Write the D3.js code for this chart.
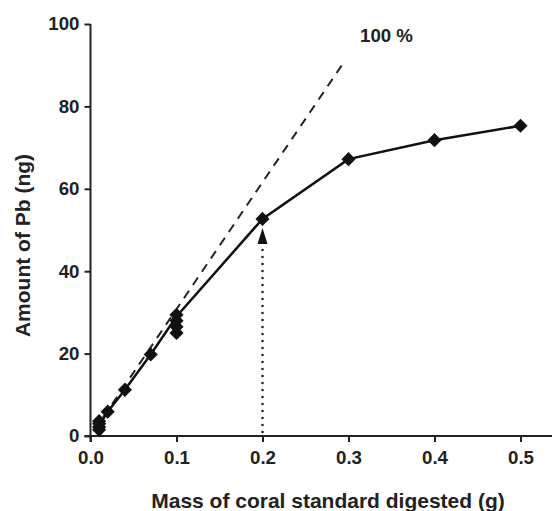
<!DOCTYPE html>
<html>
<head>
<meta charset="utf-8">
<script src="https://cdn.jsdelivr.net/npm/d3@7"></script>
<style>
  html, body { margin: 0; padding: 0; background: #fff; }
  svg { display: block; font-family: "Liberation Sans", Arial, sans-serif; }
</style>
</head>
<body>
<svg id="chart" width="552" height="511"></svg>
<script>
// ---- data ----
const pointMass = [0.01, 0.01, 0.01, 0.01, 0.02, 0.04, 0.07, 0.1, 0.1, 0.1, 0.1, 0.2, 0.3, 0.4, 0.5];
const pointPb   = [1.5, 2.2, 3.0, 3.6, 5.9, 11.2, 19.8, 25.0, 26.5, 28.0, 29.4, 52.7, 67.2, 71.8, 75.3];
const lineMass  = [0.01, 0.02, 0.04, 0.07, 0.1, 0.2, 0.3, 0.4, 0.5];
const linePb    = [2.5, 5.9, 11.2, 19.8, 29.0, 52.7, 67.2, 71.8, 75.3];
const refMass   = [0, 0.292];
const refPb     = [0, 89.9];
const refLabel  = "100 %";
const arrowMass = 0.2;
const arrowFrom = 0;
const arrowTo   = 50.5;
const xTicks = [0, 0.1, 0.2, 0.3, 0.4, 0.5];
const yTicks = [0, 20, 40, 60, 80, 100];
const xTitle = "Mass of coral standard digested (g)";
const yTitle = "Amount of Pb (ng)";

// ---- scales ----
const svg = d3.select("#chart");
const x = d3.scaleLinear().domain([0, 0.55]).range([90.5, 563.5]);
const y = d3.scaleLinear().domain([0, 100]).range([436, 24]);

// ---- axes ----
const xAxis = d3.axisBottom(x).tickValues(xTicks).tickFormat(d3.format(".1f"))
  .tickSize(6).tickSizeOuter(0).tickPadding(9);
const yAxis = d3.axisLeft(y).tickValues(yTicks).tickFormat(d3.format("d"))
  .tickSize(6).tickSizeOuter(0).tickPadding(5);

const gx = svg.append("g").attr("transform", `translate(0,${y(0)})`).call(xAxis);
const gy = svg.append("g").attr("transform", `translate(${x(0)},0)`).call(yAxis);
[gx, gy].forEach(g => {
  g.select(".domain").attr("stroke", "#222").attr("stroke-width", 2);
  g.selectAll(".tick line").attr("stroke", "#222").attr("stroke-width", 2);
  g.selectAll(".tick text").attr("fill", "#222").attr("font-size", "18.7px")
    .attr("font-weight", "bold").attr("font-family", "'Liberation Sans', Arial, sans-serif");
});
gx.select(".domain").attr("d", `M${x(0) - 6},0H${x.range()[1]}`);
gy.select(".domain").attr("d", `M0,${y(100)}V${y(0) + 6}`);

// ---- titles ----
svg.append("text")
  .attr("x", 328).attr("y", 508)
  .attr("text-anchor", "middle")
  .attr("font-size", "21px").attr("font-weight", "bold").attr("fill", "#222")
  .text(xTitle);
svg.append("text")
  .attr("transform", "translate(30,245.5) rotate(-90)")
  .attr("text-anchor", "middle")
  .attr("font-size", "21px").attr("font-weight", "bold").attr("fill", "#222")
  .text(yTitle);

// ---- 100% reference line ----
const refData = refMass.map((m, i) => [m, refPb[i]]);
const refPath = svg.append("path")
  .datum(refData)
  .attr("d", d3.line().x(d => x(d[0])).y(d => y(d[1])))
  .attr("fill", "none").attr("stroke", "#222").attr("stroke-width", 2)
  .attr("stroke-dasharray", "9,7");
const dash = 9, period = 16;
const total = refPath.node().getTotalLength();
const off = (((dash - total) % period) + period) % period;
refPath.attr("stroke-dashoffset", off);
svg.append("text")
  .attr("x", 360).attr("y", 42)
  .attr("font-size", "18.7px").attr("font-weight", "bold").attr("fill", "#222")
  .text(refLabel);

// ---- arrow (dotted) ----
const headLen = 16, headHalf = 5;
svg.append("line")
  .attr("x1", x(arrowMass)).attr("x2", x(arrowMass))
  .attr("y1", y(arrowFrom) - 4).attr("y2", y(arrowTo) + headLen)
  .attr("stroke", "#222").attr("stroke-width", 2.6)
  .attr("stroke-linecap", "round")
  .attr("stroke-dasharray", "0,7");
const tipX = x(arrowMass), tipY = y(arrowTo);
svg.append("path")
  .attr("d", `M${tipX},${tipY}L${tipX + headHalf},${tipY + headLen}L${tipX - headHalf},${tipY + headLen}Z`)
  .attr("fill", "#111");

// ---- data line ----
const lineData = lineMass.map((m, i) => [m, linePb[i]]);
svg.append("path")
  .datum(lineData)
  .attr("d", d3.line().x(d => x(d[0])).y(d => y(d[1])))
  .attr("fill", "none").attr("stroke", "#111").attr("stroke-width", 2.5);

// ---- diamonds ----
const pts = pointMass.map((m, i) => [m, pointPb[i]]);
svg.append("g").selectAll("path")
  .data(pts).join("path")
  .attr("transform", d => `translate(${x(d[0])},${y(d[1])}) rotate(45)`)
  .attr("d", d3.symbol(d3.symbolSquare, 100))
  .attr("fill", "#111");
</script>
</body>
</html>
